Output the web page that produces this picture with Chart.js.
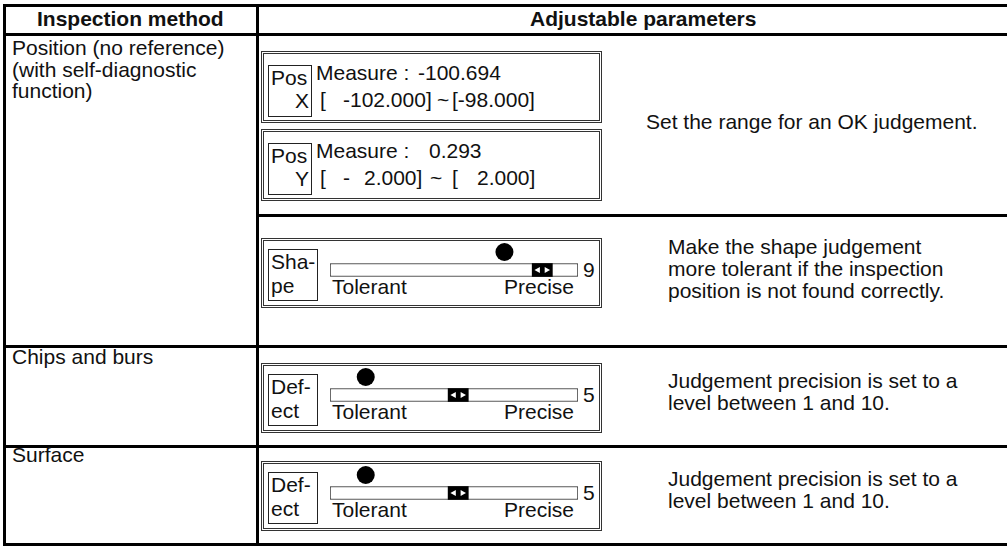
<!DOCTYPE html>
<html>
<head>
<meta charset="utf-8">
<script src="https://cdn.jsdelivr.net/npm/chart.js@4/dist/chart.umd.min.js"></script>
<style>
  html, body { margin: 0; padding: 0; background: #fff; }
  #page { position: relative; width: 1007px; height: 547px; overflow: hidden; background: #fff;
          font-family: "Liberation Sans", Arial, Helvetica, sans-serif; color: #111; }
  .ln { position: absolute; background: #000; }
  .t { position: absolute; white-space: pre; font-size: 21px; line-height: 21px; }
  .b { font-weight: bold; }
  .box { position: absolute; border: 3px double #333; box-sizing: border-box; }
  .lbl { position: absolute; border: 1px solid #222; box-sizing: border-box; }
  .sl { position: absolute; width: 252px; height: 36px; }
</style>
</head>
<body>
<div id="page"></div>
<script>
// slider rows: parameter name, judgement level, where the round pointer sits
const sliderNames = ['Sha-\npe', 'Def-\nect', 'Def-\nect'];
const sliderLevels = [9, 5, 5];
const pointerPos = [7.2, 0.6, 0.6];
// slider scale (level units)
const scaleMin = -1.1;
const scaleMax = 10.7;

const methods = ['Position (no reference)', '(with self-diagnostic', 'function)'];
const notes = [
  ['Set the range for an OK judgement.'],
  ['Make the shape judgement', 'more tolerant if the inspection', 'position is not found correctly.'],
  ['Judgement precision is set to a', 'level between 1 and 10.'],
  ['Judgement precision is set to a', 'level between 1 and 10.']
];

const page = document.getElementById('page');

function line(x, y, w, h) {
  const d = document.createElement('div');
  d.className = 'ln';
  Object.assign(d.style, { left: x + 'px', top: y + 'px', width: w + 'px', height: h + 'px' });
  page.appendChild(d);
}

// text placed by left x and baseline y
function text(str, x, base, cls, align) {
  const d = document.createElement('div');
  d.className = 't' + (cls ? ' ' + cls : '');
  d.textContent = str;
  d.style.top = (base - 17.8) + 'px';
  if (align === 'right') d.style.right = (1007 - x) + 'px';
  else d.style.left = x + 'px';
  page.appendChild(d);
  return d;
}

function rect(cls, x, y, w, h) {
  const d = document.createElement('div');
  d.className = cls;
  Object.assign(d.style, { left: x + 'px', top: y + 'px', width: w + 'px', height: h + 'px' });
  page.appendChild(d);
  return d;
}

// table rules
line(3, 4, 1004, 3);
line(3, 33, 1004, 3);
line(3, 345, 1004, 3);
line(257, 214, 750, 3);
line(3, 445, 1004, 3);
line(3, 543, 1004, 3);
line(3, 4, 3, 542);
line(256, 4, 3, 542);

// header
text('Inspection method', 37, 26, 'b');
text('Adjustable parameters', 530, 26, 'b');

// left column
text(methods[0], 12, 55);
text(methods[1], 12, 77);
text(methods[2], 12, 98);
text('Chips and burs', 12, 364);
text('Surface', 12, 462);

// position boxes
const posRows = [
  { y: 51, axis: 'X', meas: '-100.694', measX: 418,
    parts: [['[', 320], ['-102.000]', 343], ['~', 437], ['[-98.000]', 452]] },
  { y: 129, axis: 'Y', meas: '0.293', measX: 429,
    parts: [['[', 320], ['-', 343], ['2.000]', 364], ['~', 430], ['[', 452], ['2.000]', 477]] }
];
posRows.forEach(r => {
  rect('box', 261, r.y, 341, 72);
  rect('lbl', 268, r.y + 14, 44, 52);
  text('Pos', 271, r.y + 34);
  text(r.axis, 309, r.y + 57, null, 'right');
  text('Measure :', 316, r.y + 29);
  text(r.meas, r.measX, r.y + 29);
  r.parts.forEach(p => text(p[0], p[1], r.y + 56));
});
text(notes[0][0], 646, 129);

// slider rows
const sliderTop = [238, 363, 461];
const noteBase = [[254, 276, 298], [388, 410], [486, 508]];
sliderTop.forEach((y, i) => {
  rect('box', 261, y, 341, 70);
  rect('lbl', 268, y + 11, 50, 52);
  const nm = sliderNames[i].split('\n');
  text(nm[0], 271, y + 31);
  text(nm[1], 271, y + 55);
  text('Tolerant', 332, y + 56);
  text('Precise', 574, y + 56, null, 'right');
  text(String(sliderLevels[i]), 583, y + 39);
  notes[i + 1].forEach((s, k) => text(s, 668, noteBase[i][k]));

  const wrap = rect('sl', 328, y + 5, 252, 36);
  const cv = document.createElement('canvas');
  wrap.appendChild(cv);
  drawSlider(cv, i);
});

function drawSlider(cv, i) {
  const v = sliderLevels[i];
  new Chart(cv.getContext('2d'), {
    type: 'bar',
    data: {
      labels: ['dot', 'bar'],
      datasets: [
        { label: 'track', data: [null, [scaleMin, scaleMax]], backgroundColor: '#fff',
          borderColor: '#222', borderWidth: 1, borderSkipped: false, barThickness: 13, grouped: false, order: 3 },
        { label: 'knob', data: [null, [v - 0.48, v + 0.48]], backgroundColor: '#000',
          borderWidth: 0, barThickness: 13, grouped: false, order: 2 },
        { type: 'scatter', label: 'arrows', order: 1,
          data: [{ x: v - 0.2, y: 'bar' }, { x: v + 0.2, y: 'bar' }],
          pointStyle: 'triangle', pointRadius: 3.6, pointRotation: [-90, 90],
          backgroundColor: '#fff', borderWidth: 0 },
        { type: 'scatter', label: 'pointer', order: 1,
          data: [{ x: pointerPos[i], y: 'dot' }],
          pointRadius: 9, backgroundColor: '#000', borderWidth: 0 }
      ]
    },
    options: {
      indexAxis: 'y',
      responsive: true,
      maintainAspectRatio: false,
      animation: false,
      devicePixelRatio: 1,
      layout: { autoPadding: false, padding: { left: 2, right: 2, top: 0, bottom: 0 } },
      plugins: { legend: { display: false }, tooltip: { enabled: false } },
      scales: {
        x: { type: 'linear', min: scaleMin, max: scaleMax, display: false },
        y: { type: 'category', offset: true, display: false }
      }
    }
  });
}
</script>
</body>
</html>
